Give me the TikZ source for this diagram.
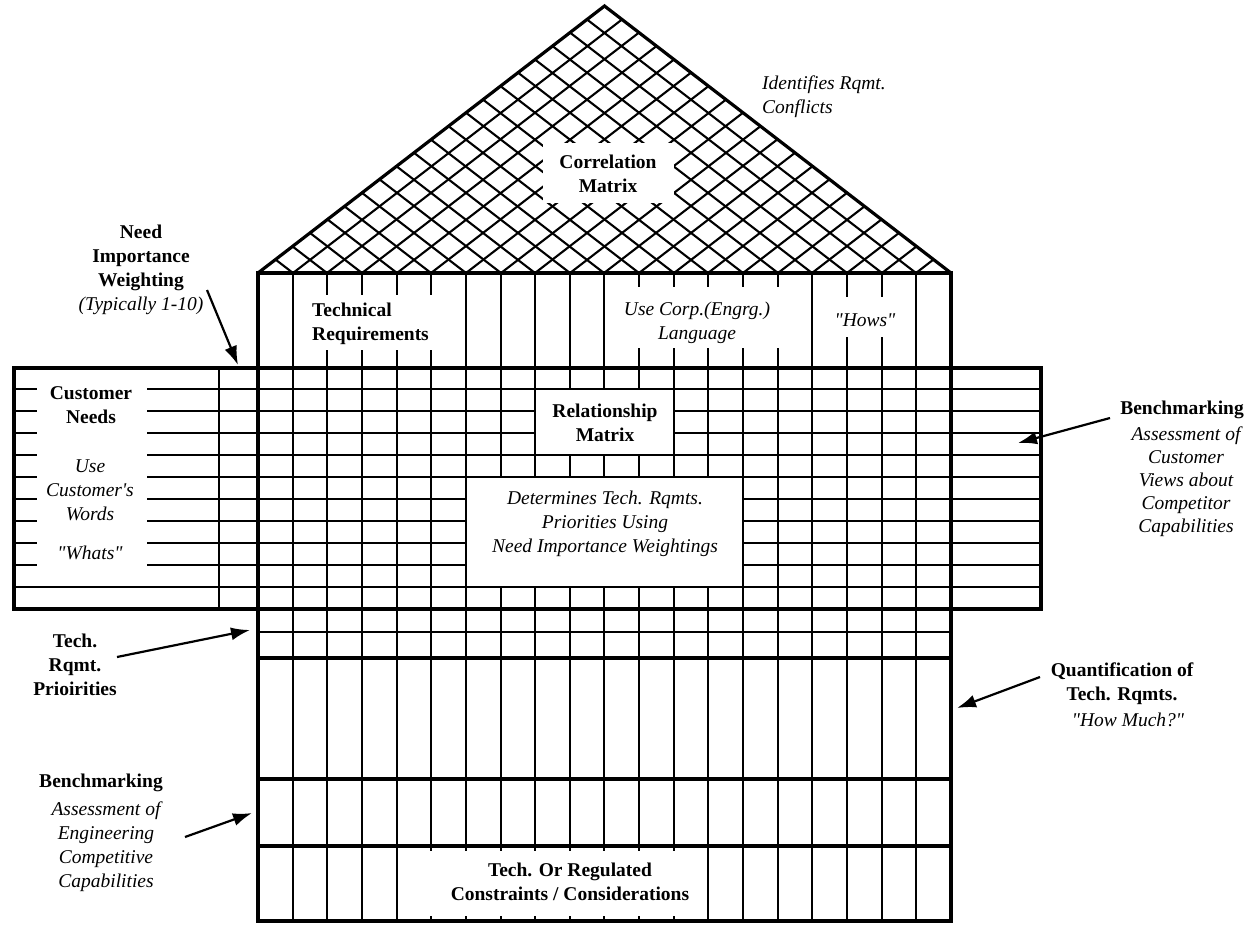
\documentclass[tikz,border=0pt]{standalone}
\usepackage{fontspec}
\setmainfont{Liberation Serif}
\newfontfamily\qfont{Liberation Serif}
\usetikzlibrary{arrows.meta}
\newcommand\dq{{\qfont"}}
\newcommand\sq{{\qfont'}}
\begin{document}
\begin{tikzpicture}[x=1pt,y=-1pt,
  declare function={X(\k)=round(258+34.65*\k); Y(\j)=round(367.5+21.95*\j);},
  frame/.style={line width=3.2pt},
  gridline/.style={line width=2.1pt},
  hatch/.style={line width=2.1pt},
  lbl/.style={align=center, inner sep=0pt},
  bl/.style={lbl, font=\fontsize{19.5}{24}\selectfont\bfseries},
  it/.style={lbl, font=\fontsize{19.5}{24}\selectfont\itshape},
  arr/.style={line width=2.2pt, -{Latex[length=19pt,width=13pt]}},
  blank/.style={fill=white, draw=none}]
\useasboundingbox (0,0) rectangle (1245,924);
\fill[white] (0,0) rectangle (1245,924);
% roof hatching
\foreach \i in {1,...,19} {
  \draw[hatch] ({X(\i)},273) -- ++({(20-\i)*17.325},{-(20-\i)*13.35});
  \draw[hatch] ({X(\i)},273) -- ++({-\i*17.325},{-\i*13.35});
}
% vertical columns of the body
\foreach \k in {1,...,19}
  \draw[gridline] ({X(\k)},273) -- ({X(\k)},921);
% rows of the wide band
\foreach \j in {1,...,10}
  \draw[gridline] (14,{Y(\j)}) -- (1041,{Y(\j)});
% priorities inner row
\draw[gridline] (258,632) -- (951,632);
% blanks behind labels
\fill[blank] (543,143) rectangle (674,203);
\fill[blank] ({X(8)+1.4},{Y(1)+1.4}) rectangle ({X(12)-1.4},{Y(4)-1.4});
\fill[blank] ({X(6)+1.4},{Y(5)+1.4}) rectangle ({X(14)-1.4},{Y(10)-1.4});
\fill[blank] (37,370) rectangle (147,{Y(10)-1.4});
\fill[blank] ({X(1)+1.4},295) rectangle ({X(6)-1.4},350);
\fill[blank] ({X(10)+1.4},287) rectangle ({X(16)-1.4},348);
\fill[blank] ({X(16)+1.4},297) rectangle ({X(19)-1.4},337);
\fill[blank] ({X(4)+1.4},851) rectangle ({X(13)-1.4},916);
% heavy frame lines
\draw[frame, line join=miter] (258,273) -- (604.5,6) -- (951,273);
\draw[frame] (258,273) rectangle (951,921);
\draw[frame] (14,{Y(0)}) rectangle (1041,{Y(11)});
\draw[line width=2.8pt] (219,{Y(0)}) -- (219,{Y(11)});
\draw[frame] (258,658) -- (951,658);
\draw[frame] (258,779) -- (951,779);
\draw[frame] (258,846) -- (951,846);
% labels
\node[bl] (corr) at (608,174) {Correlation\\Matrix};
\node[it, align=left, anchor=west] (ident) at (762,97) {Identifies Rqmt.\\Conflicts};
\node[bl, align=left, anchor=west] (techreq) at (312,324) {Technical\\Requirements};
\node[it] (usecorp) at (697,323) {Use Corp.(Engrg.)\\Language};
\node[it] (hows) at (865,320) {\dq Hows\dq};
\node[bl] (need) at (141,258) {Need\\Importance\\Weighting};
\node[it] (typ) at (141,306) {(Typically 1-10)};
\node[bl] (custneeds) at (91,405) {Customer\\Needs};
\node[it] (words) at (90,490) {Use\\Customer\sq s\\Words};
\node[it] (whats) at (90,553) {\dq Whats\dq};
\node[bl] (relmat) at (605,423) {Relationship\\Matrix};
\node[it] (determ) at (605,524) {Determines Tech. Rqmts.\\Priorities Using\\Need Importance Weightings};
\node[bl] (benchr) at (1182,410) {Benchmarking};
\node[lbl, font=\fontsize{19.5}{23}\selectfont\itshape] (benchrtxt) at (1186,482) {Assessment of\\Customer\\Views about\\Competitor\\Capabilities};
\node[bl] (prio) at (75,665) {Tech.\\Rqmt.\\Prioirities};
\node[bl] (benchl) at (101,783) {Benchmarking};
\node[it] (benchltxt) at (106,847) {Assessment of\\Engineering\\Competitive\\Capabilities};
\node[bl] (quant) at (1122,684) {Quantification of\\Tech. Rqmts.};
\node[it] (howmuch) at (1128,720) {\dq How Much?\dq};
\node[bl] (constr) at (570,882) {Tech. Or Regulated\\Constraints / Considerations};
% arrows
\coordinate (a1s) at (207,290); \coordinate (a1e) at (238,365);
\coordinate (a2s) at (1110,418); \coordinate (a2e) at (1018,443);
\coordinate (a3s) at (117,657); \coordinate (a3e) at (250,630);
\coordinate (a4s) at (185,837); \coordinate (a4e) at (252,813);
\coordinate (a5s) at (1040,677); \coordinate (a5e) at (957,708);
\draw[arr] (a1s) -- (a1e);
\draw[arr] (a2s) -- (a2e);
\draw[arr] (a3s) -- (a3e);
\draw[arr] (a4s) -- (a4e);
\draw[arr] (a5s) -- (a5e);
\end{tikzpicture}
\end{document}
